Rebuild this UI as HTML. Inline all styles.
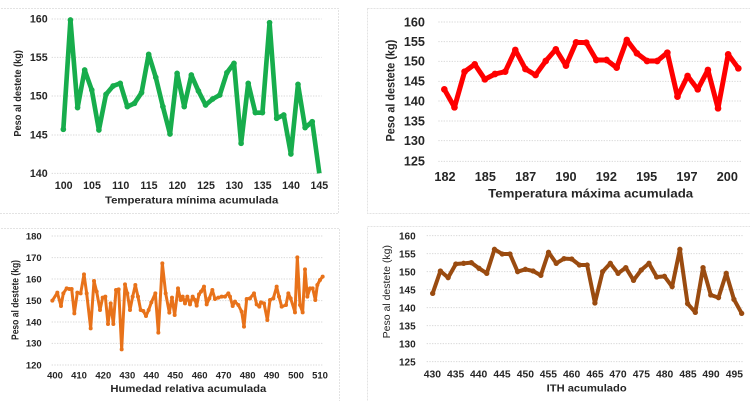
<!DOCTYPE html>
<html><head><meta charset="utf-8"><style>
html,body{margin:0;padding:0;background:#fff;}
svg{display:block;}
text{font-family:"Liberation Sans",Arial,sans-serif;fill:#262626;}
</style></head><body>
<svg width="750" height="401" viewBox="0 0 750 401" xmlns="http://www.w3.org/2000/svg">
<defs>
<marker id="mg" markerUnits="userSpaceOnUse" markerWidth="20" markerHeight="20" refX="10" refY="10" viewBox="0 0 20 20"><circle cx="10" cy="10" r="8.5" fill="#17ad4c"/></marker>
<marker id="mr" markerUnits="userSpaceOnUse" markerWidth="22" markerHeight="22" refX="11" refY="11" viewBox="0 0 22 22"><circle cx="11" cy="11" r="10" fill="#ff0000"/></marker>
<marker id="mo" markerUnits="userSpaceOnUse" markerWidth="14" markerHeight="14" refX="7" refY="7" viewBox="0 0 14 14"><circle cx="7" cy="7" r="6" fill="#e8721a"/></marker>
<marker id="mb" markerUnits="userSpaceOnUse" markerWidth="18" markerHeight="18" refX="9" refY="9" viewBox="0 0 18 18"><circle cx="9" cy="9" r="8" fill="#9a4b10"/></marker>
</defs>
<rect width="750" height="401" fill="#fff"/>
<!-- panel frames -->
<g fill="none" stroke="#e3e3e3" stroke-width="1" stroke-dasharray="2 1">
<rect x="-2" y="8.5" width="340.5" height="205"/>
<rect x="367.5" y="8.5" width="390" height="205"/>
<rect x="-2" y="228.5" width="341.5" height="180"/>
<rect x="367.5" y="226.5" width="390" height="180"/>
</g>

<!-- PANEL 1 -->
<g transform="scale(0.33333)">
<g stroke="#d9d9d9" stroke-width="3" stroke-dasharray="4 4">
<line x1="155" y1="57" x2="965" y2="57"/><line x1="155" y1="172" x2="965" y2="172"/><line x1="155" y1="288" x2="965" y2="288"/><line x1="155" y1="405" x2="965" y2="405"/><line x1="155" y1="520" x2="965" y2="520"/>
</g>
<g font-size="32" font-weight="bold" text-anchor="end">
<text x="143" y="68">160</text><text x="143" y="183">155</text><text x="143" y="299">150</text><text x="143" y="416">145</text><text x="143" y="531">140</text>
</g>
<g font-size="32" font-weight="bold" text-anchor="middle">
<text x="191" y="567">100</text><text x="276" y="567">105</text><text x="362" y="567">110</text><text x="447" y="567">115</text><text x="532" y="567">120</text><text x="618" y="567">125</text><text x="703" y="567">130</text><text x="788" y="567">135</text><text x="873" y="567">140</text><text x="958" y="567">145</text>
</g>
<text x="575" y="610" font-size="30" font-weight="bold" text-anchor="middle" textLength="520" lengthAdjust="spacingAndGlyphs">Temperatura mínima acumulada</text>
<text transform="translate(63,280) rotate(-90)" font-size="30" font-weight="bold" text-anchor="middle" textLength="260" lengthAdjust="spacingAndGlyphs">Peso al destete (kg)</text>
<polyline fill="none" stroke="#17ad4c" stroke-width="14" stroke-linejoin="round" marker-start="url(#mg)" marker-mid="url(#mg)" points="190,388 211.3,60 232.7,323 254,210 275.3,270 296.7,390 318,283 339.3,258 360.7,250 382,320 403.3,310 424.7,278 446,163 467.3,232 488.7,320 510,402 531.3,220 552.7,320 574,225 595.3,273 616.7,315 638,297 659.3,285 680.7,218 702,190 723.3,430 744.7,250 766,338 787.3,338 808.7,68 830,355 851.3,345 872.7,462 894,253 915.3,383 936.7,365 958,520"/>
</g>

<!-- PANEL 2 -->
<g transform="translate(375,0) scale(0.33333)">
<g stroke="#d9d9d9" stroke-width="3" stroke-dasharray="4 4">
<line x1="190" y1="66" x2="1100" y2="66"/><line x1="190" y1="125" x2="1100" y2="125"/><line x1="190" y1="184" x2="1100" y2="184"/><line x1="190" y1="244" x2="1100" y2="244"/><line x1="190" y1="303" x2="1100" y2="303"/><line x1="190" y1="363" x2="1100" y2="363"/><line x1="190" y1="422" x2="1100" y2="422"/><line x1="190" y1="484" x2="1100" y2="484"/>
</g>
<g font-size="38" font-weight="bold" text-anchor="end">
<text x="150" y="79">160</text><text x="150" y="138">155</text><text x="150" y="197">150</text><text x="150" y="257">145</text><text x="150" y="316">140</text><text x="150" y="376">135</text><text x="150" y="435">130</text><text x="150" y="497">125</text>
</g>
<g font-size="38" font-weight="bold" text-anchor="middle">
<text x="210" y="543">182</text><text x="331" y="543">185</text><text x="452" y="543">187</text><text x="573" y="543">190</text><text x="694" y="543">192</text><text x="815" y="543">195</text><text x="936" y="543">197</text><text x="1057" y="543">200</text>
</g>
<text x="647" y="592" font-size="37" font-weight="bold" text-anchor="middle" textLength="615" lengthAdjust="spacingAndGlyphs">Temperatura máxima acumulada</text>
<text transform="translate(58,272) rotate(-90)" font-size="36" font-weight="bold" text-anchor="middle" textLength="305" lengthAdjust="spacingAndGlyphs">Peso al destete (kg)</text>
<polyline fill="none" stroke="#ff0000" stroke-width="15" stroke-linejoin="round" marker-start="url(#mr)" marker-mid="url(#mr)" marker-end="url(#mr)" points="208,268 238.4,322 268.8,215 299.2,193 329.6,238 360,222 390.5,215 420.9,150 451.3,207 481.7,225 512.1,183 542.5,148 572.9,197 603.3,127 633.7,128 664.1,180 694.6,180 725,203 755.4,120 785.8,160 816.2,183 846.6,183 877,158 907.4,290 937.8,228 968.2,268 998.7,210 1029.1,325 1059.5,163 1090,205"/>
</g>

<!-- PANEL 3 -->
<g transform="translate(0,210) scale(0.33333)">
<g stroke="#d9d9d9" stroke-width="3" stroke-dasharray="4 4">
<line x1="155" y1="78" x2="968" y2="78"/><line x1="155" y1="143" x2="968" y2="143"/><line x1="155" y1="207" x2="968" y2="207"/><line x1="155" y1="272" x2="968" y2="272"/><line x1="155" y1="336" x2="968" y2="336"/><line x1="155" y1="400" x2="968" y2="400"/><line x1="155" y1="465" x2="968" y2="465"/>
</g>
<g font-size="28.5" font-weight="bold" text-anchor="end">
<text x="125" y="88">180</text><text x="125" y="153">170</text><text x="125" y="217">160</text><text x="125" y="282">150</text><text x="125" y="346">140</text><text x="125" y="410">130</text><text x="125" y="475">120</text>
</g>
<g font-size="28.5" font-weight="bold" text-anchor="middle">
<text x="165" y="505">400</text><text x="237" y="505">410</text><text x="310" y="505">420</text><text x="382" y="505">430</text><text x="454" y="505">440</text><text x="526" y="505">450</text><text x="599" y="505">460</text><text x="671" y="505">470</text><text x="743" y="505">480</text><text x="815" y="505">490</text><text x="888" y="505">500</text><text x="960" y="505">510</text>
</g>
<text x="565" y="546" font-size="30" font-weight="bold" text-anchor="middle" textLength="468" lengthAdjust="spacingAndGlyphs">Humedad relativa acumulada</text>
<text transform="translate(55,270) rotate(-90)" font-size="29" font-weight="bold" text-anchor="middle" textLength="240" lengthAdjust="spacingAndGlyphs">Peso al destete (kg)</text>
<polyline fill="none" stroke="#e8721a" stroke-width="9" stroke-linejoin="round" marker-start="url(#mo)" marker-mid="url(#mo)" marker-end="url(#mo)" points="157,272 172,248 183,288 190,250 200,235 208,237 215,237 223,310 232,248 242,250 252,193 260,250 272,355 282,213 290,245 300,300 308,263 316,260 324,342 332,280 340,342 348,240 356,238 365,418 375,223 382,250 390,300 398,260 406,225 414,260 422,300 430,303 438,318 446,300 454,277 466,250 475,368 487,160 497,250 508,308 516,263 524,315 534,235 542,270 548,260 555,280 562,260 570,283 578,260 585,270 590,287 597,253 603,245 612,230 620,283 628,265 637,240 645,267 655,263 665,260 675,260 685,250 690,260 698,288 705,275 715,285 725,305 732,350 740,267 750,265 762,250 770,283 778,290 783,277 792,280 802,330 810,270 820,265 830,230 837,260 845,290 858,285 865,250 872,265 885,307 892,142 900,285 908,307 915,178 922,260 930,235 938,235 946,270 952,225 960,210 968,200"/>
</g>

<!-- PANEL 4 -->
<g transform="translate(375,210) scale(0.33333)">
<g stroke="#d9d9d9" stroke-width="3" stroke-dasharray="4 4">
<line x1="155" y1="77" x2="1105" y2="77"/><line x1="155" y1="131" x2="1105" y2="131"/><line x1="155" y1="185" x2="1105" y2="185"/><line x1="155" y1="239" x2="1105" y2="239"/><line x1="155" y1="293" x2="1105" y2="293"/><line x1="155" y1="347" x2="1105" y2="347"/><line x1="155" y1="401" x2="1105" y2="401"/><line x1="155" y1="455" x2="1105" y2="455"/>
</g>
<g font-size="30" font-weight="bold" text-anchor="end">
<text x="122" y="88">160</text><text x="122" y="142">155</text><text x="122" y="196">150</text><text x="122" y="250">145</text><text x="122" y="304">140</text><text x="122" y="358">135</text><text x="122" y="412">130</text><text x="122" y="466">125</text>
</g>
<g font-size="31" font-weight="bold" text-anchor="middle">
<text x="172" y="503">430</text><text x="242" y="503">435</text><text x="311" y="503">440</text><text x="381" y="503">445</text><text x="451" y="503">450</text><text x="520" y="503">455</text><text x="590" y="503">460</text><text x="660" y="503">465</text><text x="729" y="503">470</text><text x="799" y="503">475</text><text x="869" y="503">480</text><text x="939" y="503">485</text><text x="1008" y="503">490</text><text x="1078" y="503">495</text>
</g>
<text x="635" y="544" font-size="30" font-weight="bold" text-anchor="middle" textLength="240" lengthAdjust="spacingAndGlyphs">ITH acumulado</text>
<text transform="translate(45,245) rotate(-90)" font-size="30" text-anchor="middle" textLength="280" lengthAdjust="spacingAndGlyphs">Peso al destete (kg)</text>
<polyline fill="none" stroke="#9a4b10" stroke-width="12" stroke-linejoin="round" marker-start="url(#mb)" marker-mid="url(#mb)" marker-end="url(#mb)" points="173,250 196.2,183 219.4,203 242.5,162 265.7,160 288.9,158 312.1,175 335.2,190 358.4,118 381.6,132 404.8,132 427.9,185 451.1,178 474.3,183 497.5,196 520.6,127 543.8,160 567,146 590.2,147 613.3,165 636.5,165 659.7,279 682.9,185 706,160 729.2,190 752.4,173 775.6,211 798.7,180 821.9,160 845.1,201 868.3,199 891.4,230 914.6,118 937.8,281 961,307 984.1,173 1007.3,255 1030.5,263 1053.7,190 1076.8,268 1100,310"/>
</g>
</svg>
</body></html>
